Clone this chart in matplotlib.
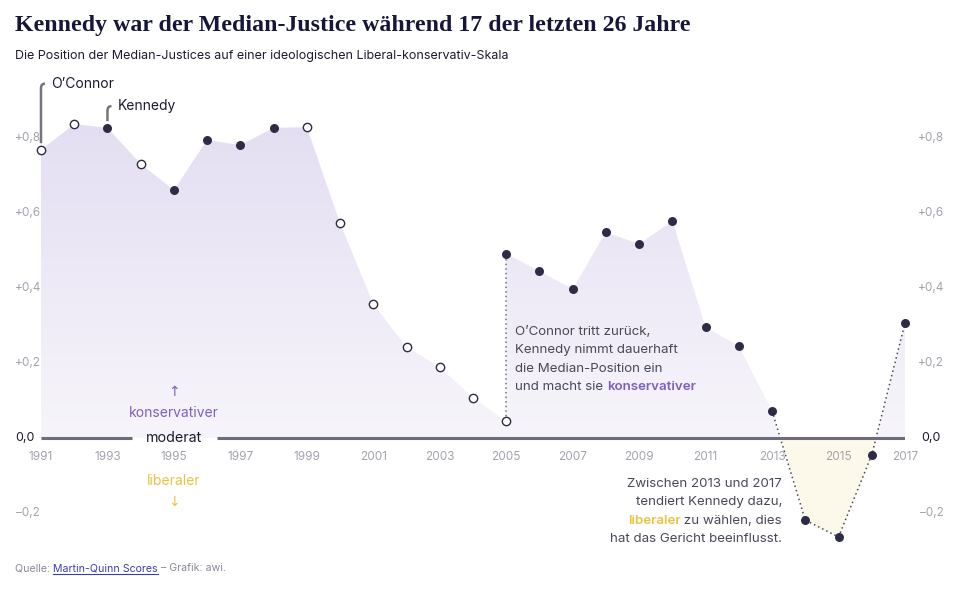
import numpy as np
import matplotlib
matplotlib.use("Agg")
import matplotlib.pyplot as plt
from matplotlib.path import Path
from matplotlib.patches import PathPatch
from matplotlib.colors import LinearSegmentedColormap

# ---------------- data ----------------
years = [1991, 1992, 1993, 1994, 1995, 1996, 1997, 1998, 1999, 2000, 2001, 2002,
         2003, 2004, 2005, 2005, 2006, 2007, 2008, 2009, 2010, 2011, 2012, 2013,
         2014, 2015, 2016, 2017]
median_scores = [0.768, 0.837, 0.827, 0.731, 0.661, 0.795, 0.781, 0.827, 0.829,
                 0.573, 0.357, 0.243, 0.189, 0.107, 0.045, 0.491, 0.445, 0.397,
                 0.549, 0.517, 0.579, 0.296, 0.245, 0.072, -0.219, -0.264,
                 -0.045, 0.307]
# True = Kennedy is median (filled dot), False = other justice (open dot)
is_kennedy = [False, False, True, False, True, True, True, True, False,
              False, False, False, False, False, False, True, True, True,
              True, True, True, True, True, True, True, True, True, True]
year_ticks = list(range(1991, 2018, 2))
y_ticks = [-0.2, 0.2, 0.4, 0.6, 0.8]
y_tick_labels = ["\u22120,2", "+0,2", "+0,4", "+0,6", "+0,8"]

title = "Kennedy war der Median-Justice während 17 der letzten 26 Jahre"
subtitle = "Die Position der Median-Justices auf einer ideologischen Liberal-konservativ-Skala"

# ---------------- style ----------------
plt.rcParams["font.family"] = ["Inter", "DejaVu Sans"]
DARK = "#2e2b47"
GREY = "#a4a2ad"
TEXT = "#4a4858"
PURPLE = "#7d5fc0"
YELLOW = "#e9c343"
AXIS = "#6e6b7b"
FS_ANN = 9.6

W, H = 966, 604
fig = plt.figure(figsize=(W / 100, H / 100), dpi=100)

# axes: x from px 41 (1991) to 905 (2017); y zero at px 438, 375 px per unit
top_px, bot_px = 80, 560
ymax = (438 - top_px) / 375
ymin = -(bot_px - 438) / 375
ax = fig.add_axes([41 / W, (H - bot_px) / H, (905 - 41) / W, (bot_px - top_px) / H])
ax.set_xlim(1991, 2017)
ax.set_ylim(ymin, ymax)
ax.axis("off")

x = np.array(years, dtype=float)
y = np.array(median_scores)

# gradient purple fill above zero
coll = ax.fill_between(x, 0, y, where=y >= 0, interpolate=True, color="none", lw=0)
paths = coll.get_paths()
compound = Path.make_compound_path(*paths)
patch = PathPatch(compound, transform=ax.transData, facecolor="none", edgecolor="none")
ax.add_patch(patch)
cmap = LinearSegmentedColormap.from_list("pg", ["#f7f5fb", "#e4def2"])
grad = np.linspace(0, 1, 256).reshape(-1, 1)
im = ax.imshow(grad, extent=[1991, 2017, 0, 0.84], origin="lower", aspect="auto",
               cmap=cmap, zorder=1, interpolation="bilinear")
im.set_clip_path(patch)

# yellow fill below zero
ax.fill_between(x, 0, y, where=y <= 0, interpolate=True, color="#fdf9ea", lw=0, zorder=1)

# dotted lines: 2005 jump and 2013-2017
i2005 = [i for i, yr in enumerate(years) if yr == 2005]
ax.plot(x[i2005], y[i2005], ls=(0, (1, 2)), color="#6e6b7b", lw=1.1, zorder=2)
i13 = years.index(2013)
ax.plot(x[i13:], y[i13:], ls=(0, (1, 2)), color="#4a4858", lw=1.1, zorder=2)

# zero line with gap for "moderat"
ax.plot([1991, 1993.75], [0, 0], color=AXIS, lw=2.2, solid_capstyle="butt", zorder=3)
ax.plot([1996.29, 2017.45], [0, 0], color=AXIS, lw=2.2, solid_capstyle="butt", zorder=3)
ax.text(1995, 0, "moderat", ha="center", va="center", fontsize=10.3, color="#1d1b2e", zorder=4)

# points
ken = np.array(is_kennedy)
ax.scatter(x[ken], y[ken], s=42, color=DARK, zorder=5, clip_on=False, lw=0)
ax.scatter(x[~ken], y[~ken], s=36, facecolor="white", edgecolor=DARK, lw=1.0,
           zorder=5, clip_on=False)

# x tick labels
for yr in year_ticks:
    ax.text(yr, -0.052, str(yr), ha="center", va="center", fontsize=8.5, color=GREY)

# y tick labels (left and right)
for v, lab in zip(y_ticks, y_tick_labels):
    ax.text(1991 - 26 / 33.23, v, lab, ha="left", va="center", fontsize=8.5, color=GREY)
    ax.text(2017.4, v, lab, ha="left", va="center", fontsize=8.5, color=GREY)
ax.text(1991 - 26 / 33.23, 0, "0,0", ha="left", va="center", fontsize=9, color="#1d1b2e")
ax.text(2017.5, 0, "0,0", ha="left", va="center", fontsize=9, color="#1d1b2e")

# konservativer / liberaler hints
ax.text(1995, 0.123, "\u2191", ha="center", va="center", fontsize=10, color=PURPLE,
        family=["DejaVu Sans"])
ax.text(1995, 0.066, "konservativer", ha="center", va="center", fontsize=10, color=PURPLE)
ax.text(1995, -0.115, "liberaler", ha="center", va="center", fontsize=10, color=YELLOW)
ax.text(1995, -0.17, "\u2193", ha="center", va="center", fontsize=10, color=YELLOW,
        family=["DejaVu Sans"])

# O'Connor / Kennedy labels with bracket lines
def bracket(ax, xd, y0, y1, label):
    r = 0.12
    verts = [(xd, y0), (xd, y1 - 0.012), (xd, y1), (xd + r, y1)]
    codes = [Path.MOVETO, Path.LINETO, Path.CURVE3, Path.CURVE3]
    ax.add_patch(PathPatch(Path(verts, codes), facecolor="none", edgecolor="#77737f",
                           lw=1.8, zorder=4, clip_on=False))
    ax.text(xd + 0.3, y1, label, ha="left", va="center", fontsize=10, color="#1d1b2e")

bracket(ax, 1991, median_scores[0] + 0.018, 0.945, "O\u2019Connor")
bracket(ax, 1993, median_scores[2] + 0.018, 0.885, "Kennedy")

# annotation 2005
ann1 = ["O\u2019Connor tritt zurück,", "Kennedy nimmt dauerhaft",
        "die Median-Position ein"]
y1s = [0.283 - k * 0.049 for k in range(4)]
for k, line in enumerate(ann1):
    ax.text(2005.27, y1s[k], line, ha="left", va="center", fontsize=FS_ANN, color=TEXT)
t = ax.text(2005.27, y1s[3], "und macht sie ", ha="left", va="center",
            fontsize=FS_ANN, color=TEXT)
fig.canvas.draw()
bb = t.get_window_extent()
xe = ax.transData.inverted().transform((bb.x1, 0))[0]
ax.text(xe, y1s[3], "konservativer", ha="left", va="center", fontsize=FS_ANN,
        color=PURPLE, fontweight="semibold")

# annotation 2013-2017
ann2 = ["Zwischen 2013 und 2017", "tendiert Kennedy dazu,"]
xr = 2013.3
y2s = [-0.122 - k * 0.049 for k in range(4)]
for k, line in enumerate(ann2):
    ax.text(xr, y2s[k], line, ha="right", va="center", fontsize=FS_ANN, color=TEXT)
t2 = ax.text(xr, y2s[2], " zu wählen, dies", ha="right", va="center",
             fontsize=FS_ANN, color=TEXT)
fig.canvas.draw()
bb2 = t2.get_window_extent()
xs = ax.transData.inverted().transform((bb2.x0, 0))[0]
ax.text(xs, y2s[2], "liberaler", ha="right", va="center", fontsize=FS_ANN,
        color=YELLOW, fontweight="semibold")
ax.text(xr, y2s[3], "hat das Gericht beeinflusst.", ha="right", va="center",
        fontsize=FS_ANN, color=TEXT)

# title / subtitle
fig.text(15 / W, 1 - 25 / H, title, ha="left", va="center", fontsize=17.2,
         fontweight="bold", color="#16163a", family=["Liberation Serif"])
fig.text(15 / W, 1 - 56 / H, subtitle, ha="left", va="center", fontsize=9.0, color="#1d1b2e")

# source
s1 = fig.text(15 / W, 1 - 568 / H, "Quelle: ", ha="left", va="center", fontsize=7.6, color="#8a8896")
fig.canvas.draw()
b = s1.get_window_extent()
s2 = fig.text(b.x1 / W, 1 - 568 / H, "Martin-Quinn Scores", ha="left", va="center",
              fontsize=7.6, color="#3b3bb0")
fig.canvas.draw()
b2 = s2.get_window_extent()
fig.add_artist(plt.Line2D([b2.x0 / W, b2.x1 / W], [(b2.y0 - 1) / H, (b2.y0 - 1) / H],
                          color="#3b3bb0", lw=0.8))
fig.text(b2.x1 / W, 1 - 568 / H, " \u2013 Grafik: awi.", ha="left", va="center",
         fontsize=7.6, color="#8a8896")

fig.savefig("out.png", dpi=100)
